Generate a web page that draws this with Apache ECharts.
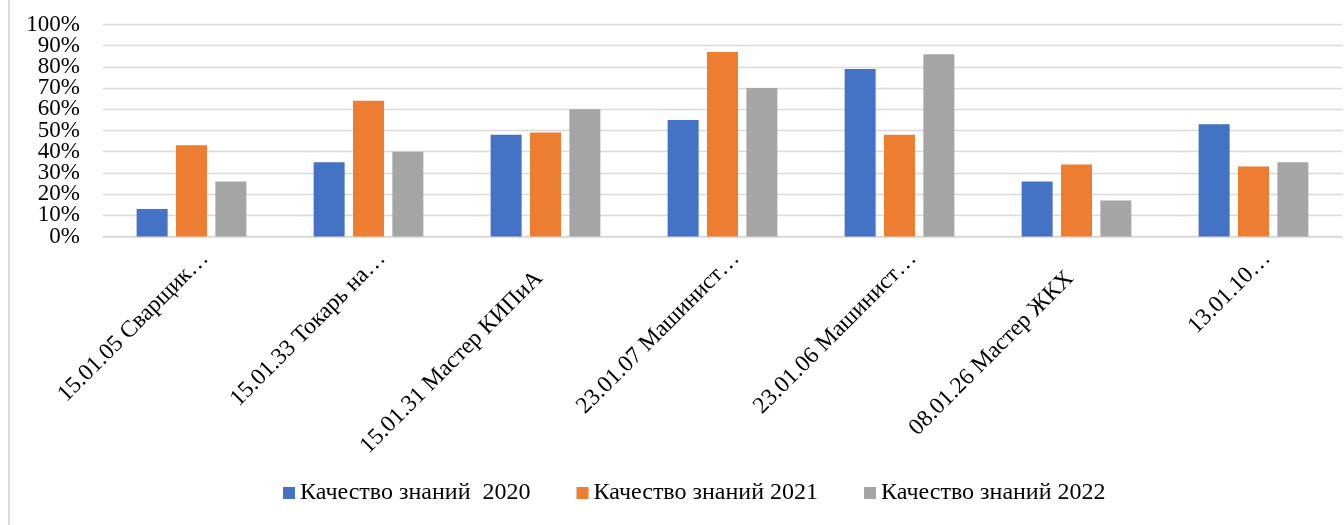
<!DOCTYPE html>
<html>
<head>
<meta charset="utf-8">
<script src="https://cdn.jsdelivr.net/npm/echarts@6/dist/echarts.min.js"></script>
<style>
html,body{margin:0;padding:0;background:#fff;}
#chart{width:1344px;height:525px;}
</style>
</head>
<body>
<div id="chart"></div>
<script>
const categories = [
  "15.01.05 Сварщик…",
  "15.01.33 Токарь на…",
  "15.01.31 Мастер КИПиА",
  "23.01.07 Машинист…",
  "23.01.06 Машинист…",
  "08.01.26 Мастер ЖКХ",
  "13.01.10…"
];
const seriesNames = ["Качество знаний  2020", "Качество знаний 2021", "Качество знаний 2022"];
const values2020 = [13, 35, 48, 55, 79, 26, 53];
const values2021 = [43, 64, 49, 87, 48, 34, 33];
const values2022 = [26, 40, 60, 70, 86, 17, 35];
const colors = ["#4472C4", "#ED7D31", "#A5A5A5"];

const font = "'Liberation Serif', 'Times New Roman', serif";
const chart = echarts.init(document.getElementById('chart'), null, {renderer: 'canvas'});
const data = [values2020, values2021, values2022];

const yLabelStyle = {margin: 23, fontFamily: font, fontSize: 23, color: '#000'};
// truncated labels sit a little further up-right than full ones (as in the source)
const categoryData = categories.map(c => ({
  value: c,
  textStyle: {padding: c.endsWith('…') ? [0, -19, 0, 0] : [0, 9, 0, 0]}
}));

chart.setOption({
  animation: false,
  backgroundColor: '#ffffff',
  textStyle: {fontFamily: font},
  grid: {left: 103, right: 2, top: 24.5, bottom: 288.5, containLabel: false},
  legend: {
    data: seriesNames,
    left: 283, top: 481,
    padding: 0,
    itemWidth: 12, itemHeight: 12, itemGap: 46,
    icon: 'rect',
    textStyle: {fontFamily: font, fontSize: 24, color: '#000', padding: [0,0,0,0]}
  },
  xAxis: {
    type: 'category',
    data: categoryData,
    axisTick: {show: false},
    axisLine: {show: true, lineStyle: {color: '#d9d9d9', width: 1.5}},
    axisLabel: {
      interval: 0, rotate: 45, margin: 32,
      fontFamily: font, fontSize: 23.5, color: '#000'
    }
  },
  yAxis: [{
    type: 'value',
    min: 0, max: 100, interval: 10,
    axisLine: {show: false},
    axisTick: {show: false},
    splitLine: {lineStyle: {color: '#d9d9d9', width: 1.3}},
    axisLabel: Object.assign({
      formatter: v => (v % 20 === 0 ? v + '%' : ''),
      showMinLabel: true, showMaxLabel: true
    }, yLabelStyle)
  }, {
    type: 'value',
    position: 'left',
    min: 0, max: 100, interval: 10,
    axisLine: {show: false},
    axisTick: {show: false},
    splitLine: {show: false},
    axisLabel: Object.assign({
      formatter: v => (v % 20 === 10 ? v + '%' : ''),
      showMinLabel: false, showMaxLabel: false
    }, yLabelStyle)
  }],
  graphic: [{
    type: 'line', shape: {x1: 9, y1: 0, x2: 9, y2: 525},
    style: {stroke: '#d9d9d9', lineWidth: 2}, silent: true
  }],
  series: seriesNames.map((n, i) => ({
    name: n,
    type: 'bar',
    yAxisIndex: 0,
    data: data[i],
    barWidth: 31,
    barGap: '27%',
    itemStyle: {color: colors[i]}
  }))
});
</script>
</body>
</html>
